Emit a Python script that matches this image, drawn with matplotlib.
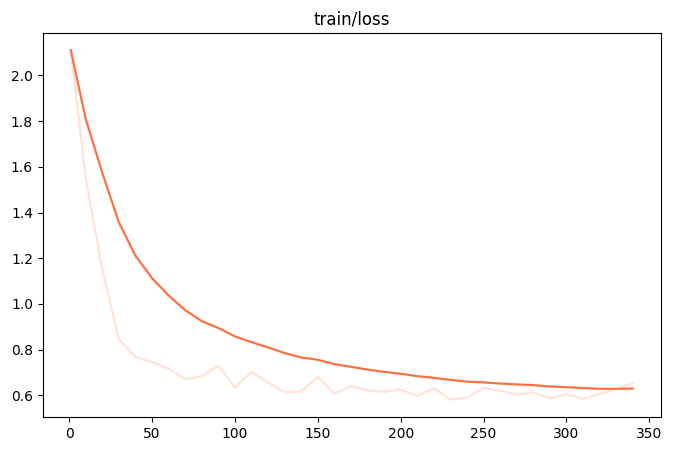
import matplotlib
matplotlib.use("Agg")
import matplotlib.pyplot as plt

steps = [1] + list(range(10, 350, 10))

loss_raw = [2.11, 1.55, 1.15, 0.846, 0.768, 0.746, 0.717, 0.671, 0.683, 0.730,
            0.635, 0.703, 0.657, 0.613, 0.617, 0.681, 0.607, 0.641, 0.622, 0.616,
            0.626, 0.598, 0.632, 0.582, 0.591, 0.633, 0.620, 0.604, 0.614, 0.586,
            0.606, 0.585, 0.606, 0.627, 0.655]

loss_smooth = [2.11, 1.809, 1.573, 1.357, 1.211, 1.113, 1.037, 0.973, 0.925, 0.895,
               0.858, 0.833, 0.810, 0.785, 0.766, 0.756, 0.737, 0.725, 0.713, 0.703,
               0.695, 0.684, 0.677, 0.668, 0.660, 0.657, 0.652, 0.648, 0.645, 0.639,
               0.636, 0.632, 0.629, 0.629, 0.630]

color = "#ff7043"

fig = plt.figure(figsize=(6.73, 4.51), dpi=100)
ax = fig.add_axes([0.0635, 0.0754, 0.9185, 0.852])
ax.plot(steps, loss_raw, color=color, alpha=0.2, linewidth=1.6)
ax.plot(steps, loss_smooth, color=color, linewidth=1.6)
ax.set_title("train/loss")
fig.savefig("out.png", dpi=100)
